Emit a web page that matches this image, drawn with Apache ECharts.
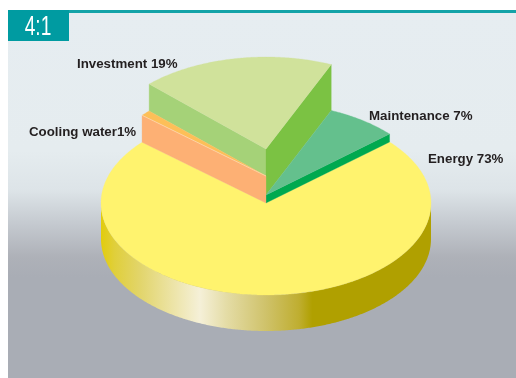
<!DOCTYPE html>
<html><head><meta charset="utf-8">
<style>html,body{margin:0;padding:0;background:#fff}#c{width:516px;height:378px}</style>
<script src="https://cdn.jsdelivr.net/npm/echarts@6/dist/echarts.min.js"></script>
</head><body><div id="c"></div>
<script>
// Data: order is the counter-clockwise order round the pie
const categories = ['Maintenance', 'Investment', 'Cooling water', 'Energy'];
const shares = [7, 19, 1, 73];
const labels = ['Maintenance 7%', 'Investment 19%', 'Cooling water1%', 'Energy 73%'];
const badge = '4:1';

// Geometry and style
const CX = 266, CY = 203, RX = 165, RY = 92, DEPTH = 36, START = 41.5;
const lift = {Maintenance: 8, Investment: 54, 'Cooling water': 27, Energy: 0};
const liftBase = {Maintenance: 0, Investment: 8, 'Cooling water': 0, Energy: 0};
const topColor = {Maintenance: '#64C08D', Investment: '#D0E29B', 'Cooling water': '#FDBF58', Energy: '#FFF36E'};
const labelPos = {Maintenance: [369, 116], Investment: [77, 64], 'Cooling water': [29, 132], Energy: [428, 159]};
const drawOrder = ['Energy', 'Investment', 'Maintenance', 'Cooling water'];

const rad = d => d * Math.PI / 180;
const pt = (deg, e, r) => [CX + (r === 0 ? 0 : RX * Math.cos(rad(deg))), CY - e - (r === 0 ? 0 : RY * Math.sin(rad(deg)))];
const total = shares.reduce((a, b) => a + b, 0);
const spans = {};
let acc = START;
categories.forEach((c, i) => { const s = shares[i] / total * 360; spans[c] = [acc, acc + s]; acc += s; });

function arc(a, b, e) { const out = []; const n = Math.max(2, Math.ceil(Math.abs(b - a) * 2)); for (let i = 0; i <= n; i++) out.push(pt(a + (b - a) * i / n, e)); return out; }
const poly = (points, fill) => ({type: 'polygon', shape: {points}, style: {fill, stroke: fill, lineWidth: 0.3}});
const radial = (deg, e1, e2, fill) => poly([pt(deg, e1, 0), pt(deg, e1), pt(deg, e2), pt(deg, e2, 0)], fill);

function renderItem(params, api) {
  const name = drawOrder[params.dataIndex];
  const [a, b] = spans[name];
  const e = lift[name];
  const kids = [];
  if (name === 'Energy') {
    const front = arc(180, 360, 0);
    const wall = front.concat(arc(360, 180, -DEPTH));
    kids.push({type: 'polygon', shape: {points: wall}, style: {fill: new echarts.graphic.LinearGradient(CX - RX, 0, CX + RX, 0, [
      {offset: 0, color: '#E2CC0C'}, {offset: 0.04, color: '#E0CF3A'}, {offset: 0.12, color: '#E2D56C'},
      {offset: 0.3, color: '#F5F0D8'}, {offset: 0.38, color: '#E4DCA6'}, {offset: 0.5, color: '#CFC26A'},
      {offset: 0.6, color: '#BFAE30'}, {offset: 0.64, color: '#B0A000'}, {offset: 1, color: '#B0A000'}], true)}});
  }
  if (name === 'Investment') {
    kids.push(radial(b, e, lift['Cooling water'], '#A5D278'));
    kids.push(radial(a, e, liftBase[name], '#7BC243'));
  }
  if (name === 'Maintenance') kids.push(radial(a, e, 0, '#00A94F'));
  kids.push(poly([pt(a, e, 0)].concat(arc(a, b, e)), topColor[name]));
  if (name === 'Cooling water') {
    kids.push(radial(b, e, 0, '#FDB074'));
    kids.push({type: 'polyline', shape: {points: [pt(b, e, 0), pt(b, e)]}, style: {fill: 'none', stroke: '#FFE3BC', lineWidth: 0.6}});
  }
  const [lx, ly] = labelPos[name];
  kids.push({type: 'text', style: {text: labels[categories.indexOf(name)], x: lx, y: ly, fill: '#231F20',
    font: 'bold 13.3px "Liberation Sans", Arial, sans-serif', textAlign: 'left', textVerticalAlign: 'middle'}});
  return {type: 'group', children: kids};
}

const chart = echarts.init(document.getElementById('c'), null, {renderer: 'canvas'});
chart.setOption({
  animation: false,
  backgroundColor: '#fff',
  graphic: [
    {type: 'rect', shape: {x: 8, y: 11, width: 508, height: 367}, style: {fill: new echarts.graphic.LinearGradient(0, 11, 0, 378, [
      {offset: 0, color: '#E6EDF1'}, {offset: 0.38, color: '#E5ECEF'}, {offset: 0.488, color: '#DDE4E8'},
      {offset: 0.578, color: '#C5CAD0'}, {offset: 0.67, color: '#AEB1B8'}, {offset: 0.725, color: '#A9ADB5'}, {offset: 1, color: '#A9ADB5'}], true)}},
    {type: 'rect', shape: {x: 8, y: 10, width: 508, height: 3}, style: {fill: '#13A3A8'}},
    {type: 'rect', shape: {x: 8, y: 10, width: 61, height: 31}, style: {fill: '#009BA1'}},
    {type: 'text', x: 38, y: 28, scaleX: 0.71, style: {text: badge, x: 0, y: 0, fill: '#fff', font: '27px "Liberation Sans", sans-serif', textAlign: 'center', textVerticalAlign: 'middle'}}
  ],
  series: [{type: 'custom', coordinateSystem: 'none', renderItem, silent: true,
    data: drawOrder.map(n => ({name: n, value: shares[categories.indexOf(n)]}))}]
});
</script></body></html>
